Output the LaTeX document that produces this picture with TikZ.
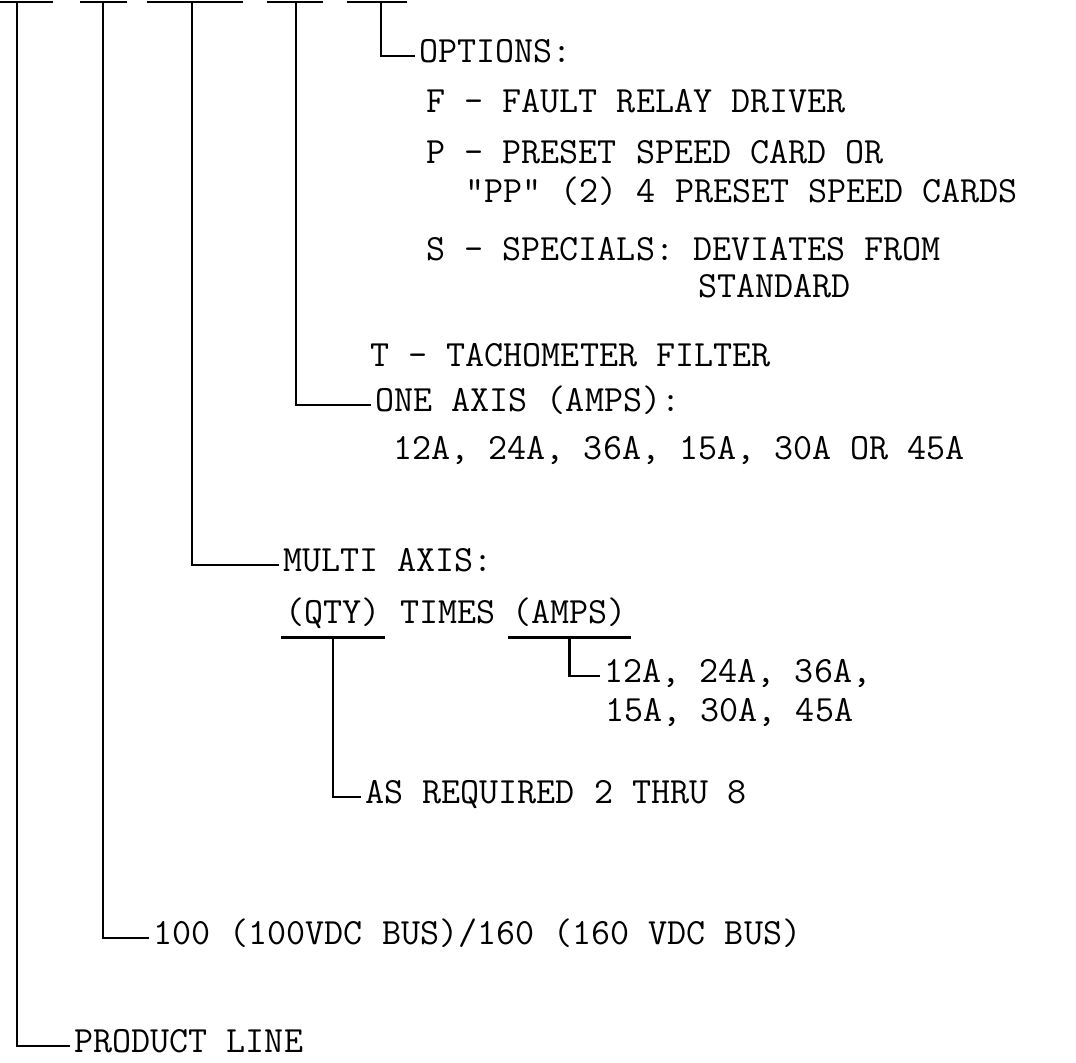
\documentclass[tikz,border=0pt]{standalone}
\usepackage{fontspec}

\begin{document}
\begin{tikzpicture}[x=0.5pt, y=-0.5pt,
    wire/.style={line width=1.3pt},
    txt/.style={anchor=west, inner xsep=2pt, inner ysep=0pt,
      text height=0.61em, text depth=0pt,
      font=\ttfamily\fontsize{18.5}{22}\selectfont}]
  \useasboundingbox (0,0) rectangle (1076,1062);

  % --- code positions along the top --------------------------------------
  \draw[wire] (0,2) -- (53,2);
  \draw[wire] (80,2) -- (127,2);
  \draw[wire] (147,2) -- (243,2);
  \draw[wire] (267,2) -- (323,2);
  \draw[wire] (347,2) -- (407,2);
  \coordinate (pos1) at (17,2);
  \coordinate (pos2) at (103,2);
  \coordinate (pos3) at (192,2);
  \coordinate (pos4) at (296,2);
  \coordinate (pos5) at (381,2);

  % --- options ------------------------------------------------------------
  \node[txt] (opt) at (415,56) {OPTIONS:};
  \node[txt] (optf) at (422,106) {F - FAULT RELAY DRIVER};
  \node[txt] (optp) at (422,157) {P - PRESET SPEED CARD OR};
  \node[txt] (optpp) at (461,196) {"PP" (2) 4 PRESET SPEED CARDS};
  \node[txt] (opts) at (422,254) {S - SPECIALS: DEVIATES FROM};
  \node[txt] (optstd) at (694,291) {STANDARD};
  \node[txt] (optt) at (366,360) {T - TACHOMETER FILTER};

  % --- one axis -----------------------------------------------------------
  \node[txt] (one) at (371,405) {ONE AXIS (AMPS):};
  \node[txt] (onelist) at (389,453) {12A, 24A, 36A, 15A, 30A OR 45A};

  % --- multi axis ---------------------------------------------------------
  \node[txt] (multi) at (279,565) {MULTI AXIS:};
  \node[txt] (qty) at (281,617) {(QTY)};
  \node[txt] (times) at (396,617) {TIMES};
  \node[txt] (amps) at (508,617) {(AMPS)};
  \draw[wire] ([yshift=-7pt]qty.south west) -- ([yshift=-7pt]qty.south east);
  \draw[wire] ([yshift=-7pt]amps.south west) -- ([yshift=-7pt]amps.south east);
  \coordinate (qtyu) at ([yshift=-7pt]qty.south);
  \coordinate (ampsu) at ([yshift=-7pt]amps.south);
  \node[txt] (ampsa) at (600,676) {12A, 24A, 36A,};
  \node[txt] (ampsb) at (601,715) {15A, 30A, 45A};
  \node[txt] (asreq) at (361,797) {AS REQUIRED 2 THRU 8};

  % --- bus and product line -----------------------------------------------
  \node[txt] (bus) at (149,938) {100 (100VDC BUS)/160 (160 VDC BUS)};
  \node[txt] (prod) at (70,1046) {PRODUCT LINE};

  % --- connectors ---------------------------------------------------------
  \draw[wire] (pos1) |- (prod.west);
  \draw[wire] (pos2) |- (bus.west);
  \draw[wire] (pos3) |- (multi.west);
  \draw[wire] (pos4) |- (one.west);
  \draw[wire] (pos5) |- (opt.west);
  \draw[wire] (qtyu) |- (asreq.west);
  \draw[wire] (ampsu) |- (ampsa.west);
\end{tikzpicture}
\end{document}
